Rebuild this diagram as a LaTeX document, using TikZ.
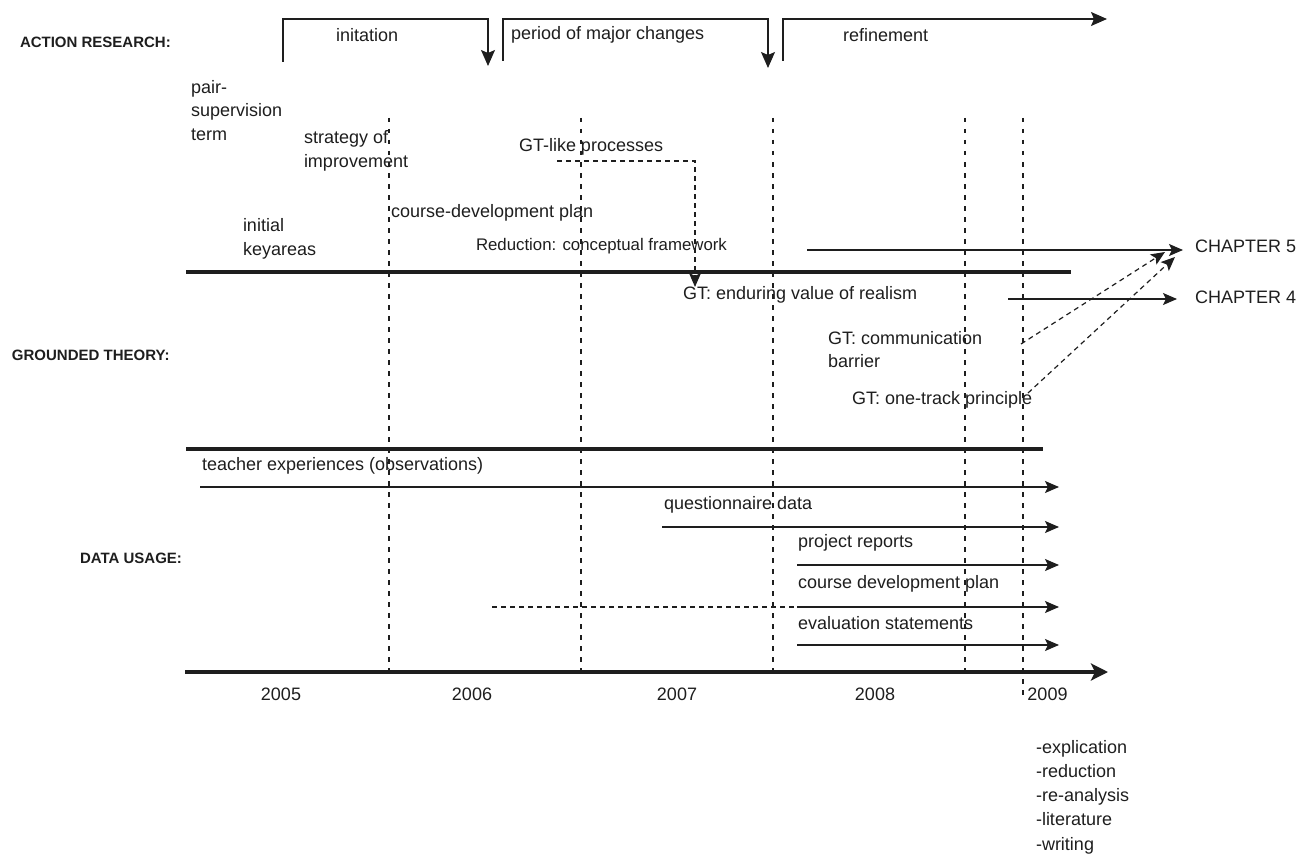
\documentclass[tikz,border=0pt]{standalone}
\usepackage{fontspec}
\setmainfont{Liberation Sans}
\usetikzlibrary{arrows.meta}
\definecolor{ink}{HTML}{1E1E1E}
\begin{document}
\begin{tikzpicture}[x=1pt,y=-1pt,
  every node/.style={inner sep=0pt, outer sep=0pt, text=ink},
  lbl/.style={anchor=west, font=\fontsize{18}{23.5}\selectfont, align=left},
  head/.style={anchor=west, font=\fontsize{15}{18}\selectfont\bfseries},
  yr/.style={font=\fontsize{18}{22}\selectfont},
  rule/.style={draw=ink, line width=3.2pt},
  tip/.style={-{Stealth[length=14pt,width=12pt,inset=3pt]}},
  phase/.style={draw=ink, line width=1.4pt, -{Stealth[length=16pt,width=14pt,inset=3pt]}},
  flow/.style={draw=ink, line width=1.3pt, tip},
  grid/.style={draw=ink, line width=1.2pt, dash pattern=on 4.5pt off 6.5pt},
  link/.style={draw=ink, line width=1.2pt, dash pattern=on 5pt off 4pt},
]
\useasboundingbox (0,0) rectangle (1301,864);

% ---- row headings
\node[head] (hact)  at (20,42)  {ACTION RESEARCH:};
\node[head] (hgt)   at (12,355) {GROUNDED THEORY:};
\node[head] (hdata) at (80,558) {DATA USAGE:};

% ---- action research phases
\coordinate (ph1s) at (283,62);  \coordinate (ph1e) at (488,66);
\coordinate (ph2s) at (503,61);  \coordinate (ph2e) at (768,68);
\coordinate (ph3s) at (783,61);  \coordinate (ph3e) at (1107,19);
\draw[phase] (ph1s) -- ++(0,-43) -| (ph1e);
\draw[phase] (ph2s) -- ++(0,-42) -| (ph2e);
\draw[phase] (ph3s) |- (ph3e);
\node[lbl] (initation) at (336,35) {initation};
\node[lbl] (major)     at (511,35) {period of major changes};
\node[lbl] (refine)    at (843,35) {refinement};

% ---- year separators
\foreach \n/\x/\yb in {a/389/672, b/581/672, c/773/672, d/965/672, e/1023/700}{
  \coordinate (sep\n t) at (\x,118);
  \coordinate (sep\n b) at (\x,\yb);
  \draw[grid] (sep\n t) -- (sep\n b);
}

% ---- band rules and time axis
\coordinate (r1a) at (186,272); \coordinate (r1b) at (1071,272);
\coordinate (r2a) at (186,449); \coordinate (r2b) at (1043,449);
\coordinate (ax0) at (185,672); \coordinate (ax1) at (1108,672);
\draw[rule] (r1a) -- (r1b);
\draw[rule] (r2a) -- (r2b);
\draw[rule, -{Stealth[length=17pt,width=17pt,inset=4pt]}] (ax0) -- (ax1);

% ---- action research items
\node[lbl] (pair)   at (191,110.5) {pair-\\supervision\\term};
\node[lbl] (strat)  at (304,151)   {strategy of\\improvement};
\node[lbl] (init)   at (243,239)   {initial\\keyareas};
\node[lbl] (cdplan) at (391,213)   {course-development plan};
\node[lbl] (gtlike) at (519,147)   {GT-like processes};
\node[lbl, font=\fontsize{16.8}{22}\selectfont] (reduc) at (476,246) {Reduction: conceptual framework};

% ---- grounded theory items
\node[lbl] (endur)  at (683,295)   {GT: enduring value of realism};
\node[lbl] (comm)   at (828,349.5) {GT: communication\\barrier};
\node[lbl] (onetr)  at (852,400)   {GT: one-track principle};
\node[lbl] (ch5)    at (1195,246)  {CHAPTER 5};
\node[lbl] (ch4)    at (1195,297)  {CHAPTER 4};

\coordinate (gl0) at (557,161); \coordinate (gl1) at (695,287);
\draw[link, tip] (gl0) -| (gl1);

\coordinate (c5s) at (807,250);  \coordinate (c5e) at (1183,250);
\coordinate (c4s) at (1008,299); \coordinate (c4e) at (1177,299);
\draw[flow] (c5s) -- (c5e);
\draw[flow] (c4s) -- (c4e);
\coordinate (cm0) at (1021,344); \coordinate (cm1) at (1165,252);
\coordinate (ot0) at (1028,393); \coordinate (ot1) at (1175,257);
\draw[link, tip] (cm0) -- (cm1);
\draw[link, tip] (ot0) -- (ot1);

% ---- data usage
\node[lbl] (teach) at (202,466) {teacher experiences (observations)};
\node[lbl] (quest) at (664,505) {questionnaire data};
\node[lbl] (proj)  at (798,543) {project reports};
\node[lbl] (cdp)   at (798,584) {course development plan};
\node[lbl] (evals) at (798,623) {evaluation statements};

\coordinate (d1s) at (200,487); \coordinate (d1e) at (1059,487);
\coordinate (d2s) at (662,527); \coordinate (d2e) at (1059,527);
\coordinate (d3s) at (797,565); \coordinate (d3e) at (1059,565);
\coordinate (d4p) at (492,607); \coordinate (d4s) at (797,607); \coordinate (d4e) at (1059,607);
\coordinate (d5s) at (797,645); \coordinate (d5e) at (1059,645);
\draw[flow] (d1s) -- (d1e);
\draw[flow] (d2s) -- (d2e);
\draw[flow] (d3s) -- (d3e);
\draw[link] (d4p) -- (d4s);
\draw[flow] (d4s) -- (d4e);
\draw[flow] (d5s) -- (d5e);

% ---- years
\node[yr] (y05) at (281,694)  {2005};
\node[yr] (y06) at (472,694)  {2006};
\node[yr] (y07) at (677,694)  {2007};
\node[yr] (y08) at (875,694)  {2008};
\node[yr] (y09) at (1047.5,694) {2009};

% ---- final steps
\node[lbl, font=\fontsize{18}{24.25}\selectfont] (steps) at (1036,797)
  {-explication\\-reduction\\-re-analysis\\-literature\\-writing};
\end{tikzpicture}
\end{document}
